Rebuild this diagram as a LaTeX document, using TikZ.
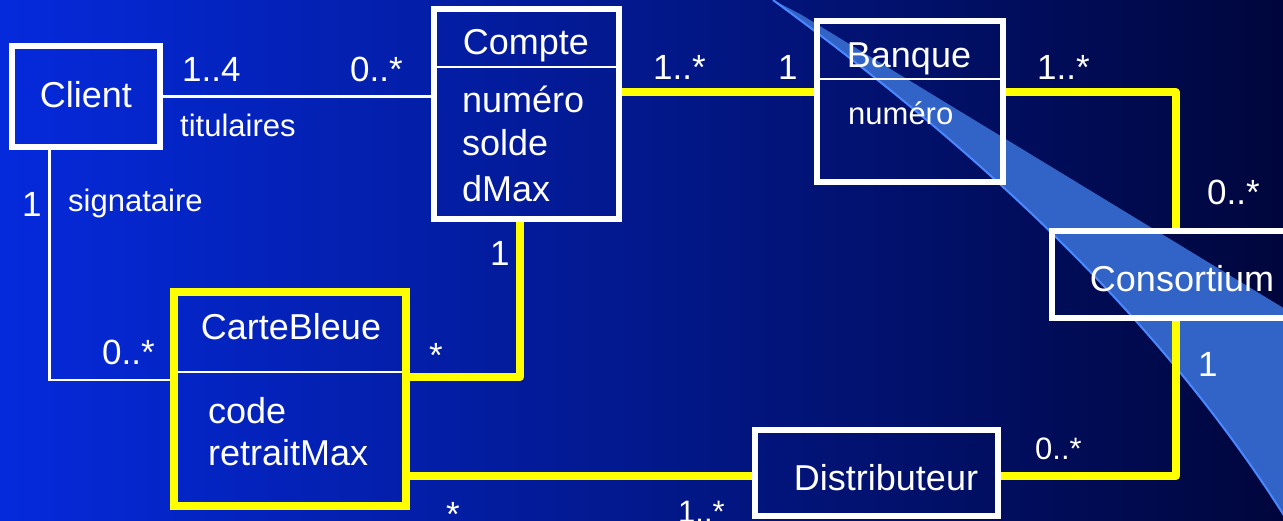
\documentclass[tikz,border=0pt]{standalone}
\usepackage{fontspec}
\setmainfont{Liberation Sans}
\definecolor{slideleft}{RGB}{5,42,220}
\definecolor{slidemid}{RGB}{2,24,150}
\definecolor{slideright}{RGB}{0,6,60}
\definecolor{swoosh}{RGB}{50,100,200}
\definecolor{swooshedge}{RGB}{75,135,255}
\definecolor{linkyellow}{RGB}{255,255,0}

\begin{document}
\begin{tikzpicture}[x=1pt,y=-1pt,
    classbox/.style={draw=white,line width=5.5pt},
    cardbox/.style={draw=linkyellow,line width=8pt},
    divider/.style={draw=white,line width=2pt},
    assoc/.style={draw=white,line width=2.5pt},
    link/.style={draw=linkyellow,line width=8pt,line join=round},
    txt/.style={text=white,inner sep=0pt},
    classname/.style={txt,font=\fontsize{36}{40}\selectfont},
    attr/.style={txt,anchor=base west,font=\fontsize{36}{40}\selectfont},
    mult/.style={txt,anchor=base west,font=\fontsize{35}{40}\selectfont},
    role/.style={txt,anchor=base west,font=\fontsize{31}{36}\selectfont}
  ]
  \useasboundingbox (0,0) rectangle (1283,521);
  \clip (0,0) rectangle (1283,521);
  % background and swoosh
  \fill[left color=slideleft,middle color=slidemid,right color=slideright] (0,0) rectangle (1283,521);
  \fill[swoosh] (773,0) .. controls (950,130) and (1150,300) .. (1290,525) -- (1290,312) -- (800,14) -- cycle;
  \draw[swooshedge,line width=2pt] (773,0) .. controls (950,130) and (1150,300) .. (1290,525);

  % classes
  \node[classbox,minimum width=148pt,minimum height=101pt] (client) at (86,96.5) {};
  \node[classbox,minimum width=185pt,minimum height=210pt] (compte) at (526.5,114) {};
  \node[classbox,minimum width=186pt,minimum height=161pt] (banque) at (910,101.5) {};
  \node[classbox,minimum width=260pt,minimum height=87pt] (consort) at (1182,274.5) {};
  \node[classbox,minimum width=243pt,minimum height=86pt] (distrib) at (876.5,473) {};
  \node[cardbox,minimum width=232pt,minimum height=214pt] (carte) at (290,399) {};

  \draw[divider] ([yshift=-61pt]compte.north west) -- ([yshift=-61pt]compte.north east);
  \draw[divider] ([yshift=-61pt]banque.north west) -- ([yshift=-61pt]banque.north east);
  \draw[divider,shorten <=8pt,shorten >=8pt] ([yshift=-84pt]carte.north west) -- ([yshift=-84pt]carte.north east);

  \node[classname] (clientname) at (86,95) {Client};
  \node[classname,anchor=base] (comptename) at (526,55) {Compte};
  \foreach \t/\y [count=\i] in {numéro/113,solde/156,dMax/202}
    \node[attr] (compteattr\i) at (462,\y) {\t};
  \node[classname,anchor=base] (banquename) at (909,68) {Banque};
  \node[role] (banqueattr) at (848,125) {numéro};
  \node[classname,anchor=base] (consortname) at (1182,292) {Consortium};
  \node[classname,anchor=base] (distribname) at (886,490) {Distributeur};
  \node[classname,anchor=base] (cartename) at (291,340) {CarteBleue};
  \node[attr] (carteattr1) at (208,423) {code};
  \node[attr] (carteattr2) at (208,465) {retraitMax};

  % associations
  \draw[assoc] (client.east) -- (client.east -| compte.west);
  \draw[assoc] ([xshift=-36.5pt]client.south) |- ([yshift=19pt]carte.west);
  \draw[link] ([yshift=21.5pt]compte.east) -- ([yshift=21.5pt]compte.east -| banque.west);
  \draw[link] ([yshift=9pt]banque.east) -| ([xshift=-6pt]consort.north);
  \draw[link] ([xshift=-6pt]consort.south) |- ([yshift=-3pt]distrib.east);
  \draw[link] ([xshift=-6.5pt]compte.south) |- ([yshift=22pt]carte.east);
  \draw[link] ([yshift=-77pt]carte.east) -- ([yshift=-77pt]carte.east -| distrib.west);

  % multiplicities and roles
  \node[mult] (m1) at (182,82) {1..4};
  \node[mult] (m2) at (350,82) {0..*};
  \node[role] (r1) at (180,137) {titulaires};
  \node[mult] (m3) at (22,217) {1};
  \node[role] (r2) at (68,212) {signataire};
  \node[mult] (m4) at (102,365) {0..*};
  \node[mult] (m5) at (653,80) {1..*};
  \node[mult] (m6) at (778,80) {1};
  \node[mult] (m7) at (1037,80) {1..*};
  \node[mult] (m8) at (1207,205) {0..*};
  \node[mult] (m9) at (1198,377) {1};
  \node[role] (m10) at (1035,459) {0..*};
  \node[mult] (m11) at (490,266) {1};
  \node[mult] (m12) at (429,367) {*};
  \node[mult] (m13) at (446,526) {*};
  \node[role] (m14) at (678,522) {1..*};
\end{tikzpicture}
\end{document}
